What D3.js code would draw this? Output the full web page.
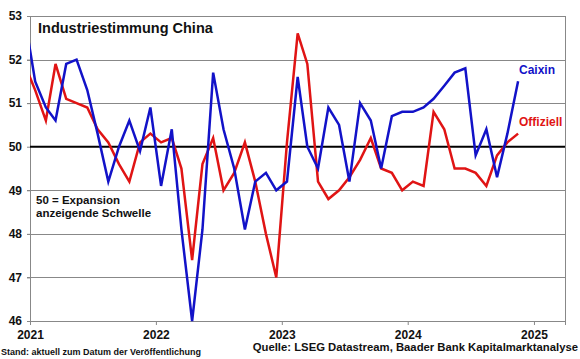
<!DOCTYPE html>
<html><head><meta charset="utf-8">
<script src="https://cdn.jsdelivr.net/npm/d3@7"></script>
<style>html,body{margin:0;padding:0;background:#fff;}svg{display:block;font-family:"Liberation Sans",Arial,sans-serif;}</style>
</head><body>
<svg id="c" width="580" height="359"></svg>
<script>
const months = ["2020-12","2021-01","2021-02","2021-03","2021-04","2021-05","2021-06","2021-07","2021-08","2021-09","2021-10","2021-11","2021-12",
"2022-01","2022-02","2022-03","2022-04","2022-05","2022-06","2022-07","2022-08","2022-09","2022-10","2022-11","2022-12",
"2023-01","2023-02","2023-03","2023-04","2023-05","2023-06","2023-07","2023-08","2023-09","2023-10","2023-11","2023-12",
"2024-01","2024-02","2024-03","2024-04","2024-05","2024-06","2024-07","2024-08","2024-09","2024-10","2024-11"];
const caixin = [53.0,51.5,50.9,50.6,51.9,52.0,51.3,50.3,49.2,50.0,50.6,49.9,50.9,
49.1,50.4,48.1,46.0,48.1,51.7,50.4,49.5,48.1,49.2,49.4,49.0,
49.2,51.6,50.0,49.5,50.9,50.5,49.2,51.0,50.6,49.5,50.7,50.8,
50.8,50.9,51.1,51.4,51.7,51.8,49.8,50.4,49.3,50.3,51.5];
const offiziell = [51.9,51.3,50.6,51.9,51.1,51.0,50.9,50.4,50.1,49.6,49.2,50.1,50.3,
50.1,50.2,49.5,47.4,49.6,50.2,49.0,49.4,50.1,49.2,48.0,47.0,
50.1,52.6,51.9,49.2,48.8,49.0,49.3,49.7,50.2,49.5,49.4,49.0,
49.2,49.1,50.8,50.4,49.5,49.5,49.4,49.1,49.8,50.1,50.3];
const yTicks = [46,47,48,49,50,51,52,53];
const xTickLabels = ["2021","2022","2023","2024","2025"];

const svg = d3.select("#c");
const L = 30, R = 565, T = 16, B = 321;
const x = d3.scaleUtc().domain([new Date(Date.UTC(2021,0,1)), new Date(Date.UTC(2025,3,1))]).range([L, R]);
const y = d3.scaleLinear().domain([46,53]).range([B, T]);
const midMonth = m => { const [yy,mm] = m.split("-").map(Number); return new Date(Date.UTC(yy, mm-1, 16)); };

// grid
svg.append("g").selectAll("line").data(yTicks.filter(v => v !== 50 && v !== 46)).join("line")
  .attr("x1", L - 3).attr("x2", R).attr("y1", d => Math.round(y(d)) + 0.5).attr("y2", d => Math.round(y(d)) + 0.5)
  .attr("stroke", "#888").attr("stroke-width", 1);
// right border
svg.append("line").attr("x1", R + 0.5).attr("x2", R + 0.5).attr("y1", T).attr("y2", B + 4).attr("stroke", "#888");

// left axis
const yAxis = svg.append("g").attr("transform", `translate(${L},0)`)
  .call(d3.axisLeft(y).tickValues(yTicks).tickSize(3).tickFormat(d3.format("d")));
yAxis.select(".domain").attr("stroke", "#888");
yAxis.selectAll(".tick line").attr("stroke", "#888");
yAxis.selectAll("text").attr("font-size", 12).attr("font-weight", "bold").attr("fill", "#111")
  .attr("font-family", "Liberation Sans, Arial, sans-serif").attr("x", -8);

// bottom axis
const yearDates = xTickLabels.map(s => new Date(Date.UTC(+s, 0, 1)));
const xAxis = svg.append("g").attr("transform", `translate(0,${B})`)
  .call(d3.axisBottom(x).tickValues(yearDates).tickSize(4).tickSizeOuter(0).tickFormat((d,i) => xTickLabels[i]));
xAxis.select(".domain").attr("stroke", "#888");
xAxis.selectAll(".tick line").attr("stroke", "#888");
xAxis.selectAll("text").attr("font-size", 12).attr("font-weight", "bold").attr("fill", "#111")
  .attr("font-family", "Liberation Sans, Arial, sans-serif").attr("dy", "0.9em");

// 50 line
svg.append("line").attr("x1", L).attr("x2", R).attr("y1", y(50)).attr("y2", y(50))
  .attr("stroke", "#000").attr("stroke-width", 2);

// clip
svg.append("clipPath").attr("id", "clip").append("rect")
  .attr("x", L).attr("y", 0).attr("width", R - L).attr("height", B + 2);

const line = vals => d3.line().x((d,i) => x(midMonth(months[i]))).y(d => y(d))(vals);
const g = svg.append("g").attr("clip-path", "url(#clip)");
g.append("path").attr("d", line(offiziell)).attr("fill", "none").attr("stroke", "#e01414").attr("stroke-width", 2.5).attr("stroke-linejoin", "miter");
g.append("path").attr("d", line(caixin)).attr("fill", "none").attr("stroke", "#1212c8").attr("stroke-width", 2.5).attr("stroke-linejoin", "miter");

// texts
svg.append("text").attr("x", 38).attr("y", 33).attr("font-size", 14.5).attr("font-weight", "bold").attr("fill", "#111")
  .text("Industriestimmung China");
svg.append("text").attr("x", 519).attr("y", 74).attr("font-size", 12).attr("font-weight", "bold").attr("fill", "#1212c8").text("Caixin");
svg.append("text").attr("x", 519).attr("y", 126).attr("font-size", 12).attr("font-weight", "bold").attr("fill", "#e01414").text("Offiziell");
svg.append("text").attr("x", 36).attr("y", 204).attr("font-size", 11.5).attr("font-weight", "bold").attr("fill", "#111").text("50 = Expansion");
svg.append("text").attr("x", 36).attr("y", 217).attr("font-size", 11.5).attr("font-weight", "bold").attr("fill", "#111").text("anzeigende Schwelle");
svg.append("text").attr("x", 1).attr("y", 355).attr("font-size", 9).attr("font-weight", "bold").attr("fill", "#111")
  .text("Stand: aktuell zum Datum der Veröffentlichung");
svg.append("text").attr("x", 578).attr("y", 351).attr("text-anchor", "end").attr("font-size", 11.3).attr("font-weight", "bold").attr("fill", "#111")
  .text("Quelle: LSEG Datastream, Baader Bank Kapitalmarktanalyse");
</script>
</body></html>
